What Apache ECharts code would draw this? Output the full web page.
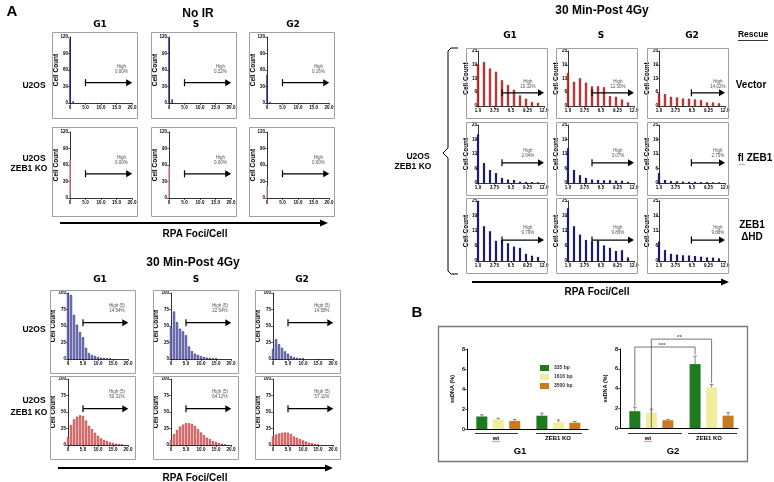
<!DOCTYPE html>
<html><head><meta charset="utf-8">
<script src="https://cdn.jsdelivr.net/npm/echarts@6/dist/echarts.min.js"></script>
<style>html,body{margin:0;padding:0;background:#fff}#c{width:774px;height:482px}</style>
</head><body><div id="c"></div>
<script>
// ================= DATA =================
// Panel A, left, No IR — cell counts per RPA foci/cell bin (bins start at 0)
const noIrU2osG1 = [117, 3];
const noIrU2osS  = [118, 7];
const noIrU2osG2 = [52, 2];
const noIrKoG1   = [70];
const noIrKoS    = [57];
const noIrKoG2   = [22];
const noIrHigh   = [["0.00%", "0.22%", "0.16%"], ["0.00%", "0.00%", "0.00%"]];

// Panel A, left, 30 Min-Post 4Gy (bins start at 0)
const postU2osG1 = [100, 97, 67, 52, 41, 33, 17, 9, 6, 4.5, 3, 2, 1.5, 1, 0.5];
const postU2osS  = [48, 72, 56, 46, 42, 36, 19, 12, 8, 6, 4.5, 3, 2, 1.5, 1, 0.5];
const postU2osG2 = [15, 30, 22.6, 17, 11.6, 8, 4.7, 2.6, 1.6, 1, 0.5];
const postKoG1   = [12, 30, 39, 43, 45, 44, 37, 29, 24, 18.5, 14, 10, 7.7, 6, 4, 3, 2, 1.5, 1];
const postKoS    = [8, 16.5, 22.7, 28, 31, 33, 33, 32, 29, 24, 19, 15, 11, 9, 6, 4.6, 3, 2, 1];
const postKoG2   = [13, 16, 17.5, 18.6, 19, 18.6, 16.5, 13, 11, 9, 7, 5.3, 3.7, 2.7, 1.6, 1];
const postHigh   = [["14.54%", "22.54%", "14.58%"], ["50.31%", "64.12%", "57.11%"]];

// Panel A, right, rescue (bins start at 1)
const vecG1 = [19, 20, 17, 15.6, 11.7, 9.5, 7.4, 4.8, 3.3, 1.8, 1.4];
const vecS  = [15, 11, 12.6, 10.6, 8.9, 9, 8.5, 4.5, 4.2, 3, 1.6];
const vecG2 = [5.7, 5.4, 4.2, 3.9, 3.4, 3.3, 3.0, 2.7, 1.6, 1.6, 1.2];
const flG1  = [21, 8.6, 5.6, 4.3, 2.2, 1.5, 1.3, 0.6, 0.5, 0.4, 0.3];
const flS   = [15, 5.6, 3.4, 2.2, 1.5, 1.3, 1.2, 1.2, 1, 1, 0.5];
const flG2  = [4.3, 1.3, 0.8, 0.7, 0.6, 0.5, 0.5, 0.4, 0.4, 0.3, 0.3];
const hdG1  = [25, 14.5, 12.4, 8.4, 8.8, 7.4, 6, 5.5, 3, 2.2, 1.7];
const hdS   = [22, 14.5, 11, 8.8, 8.1, 8.5, 6.5, 5.5, 4.2, 4.5, 1.5];
const hdG2  = [8.1, 4.6, 3, 2.7, 2.4, 2.3, 2.1, 1.8, 1.5, 1.4, 1.1];
const rescueHigh = [["10.32%", "12.50%", "14.02%"], ["2.04%", "3.07%", "2.75%"], ["9.79%", "9.86%", "9.88%"]];

// Panel B — ssDNA (%), groups [wt, ZEB1 KO]
const bLegend = ["335 bp", "1616 bp", "3500 bp"];
const bGroups = ["wt", "ZEB1 KO"];
const g1Val = [[1.25, 1.33], [0.97, 0.70], [0.80, 0.63]];
const g1Err = [[0.17, 0.25], [0.10, 0.20], [0.15, 0.12]];
const g2Val = [[1.70, 6.47], [1.56, 4.10], [0.78, 1.25]];
const g2Err = [[0.40, 0.80], [0.35, 0.30], [0.07, 0.30]];

// ================= BUILD =================
const FONT = '"Liberation Sans", Arial, sans-serif';
const grids = [], xAxes = [], yAxes = [], series = [], graphic = [];

function T(text, x, y, size, o) {
  o = o || {};
  return {type: 'text', x: x, y: y, z: 100, silent: true,
    style: {text: text, fill: o.c || '#000', font: (o.w || 'bold') + ' ' + size + 'px ' + (o.f || FONT),
      textAlign: o.a || 'center', textVerticalAlign: 'middle', align: o.a || 'center', verticalAlign: 'middle'}};
}
function box(x, y, w, h) {
  graphic.push({type: 'rect', z: 1, silent: true, shape: {x: x + 0.5, y: y + 0.5, width: w, height: h},
    style: {fill: 'none', stroke: '#a0a0a0', lineWidth: 1}});
}
function bigArrow(x1, x2, y) {
  graphic.push({type: 'line', silent: true, shape: {x1: x1, y1: y, x2: x2 - 6, y2: y}, style: {stroke: '#000', lineWidth: 2}});
  graphic.push({type: 'polygon', silent: true, shape: {points: [[x2 - 8, y - 3.5], [x2, y], [x2 - 8, y + 3.5]]}, style: {fill: '#000'}});
}
const axisCommon = {
  axisLine: {lineStyle: {color: '#000', width: 0.8}},
  axisTick: {show: true, length: 2, lineStyle: {color: '#000', width: 0.6}},
  splitLine: {show: false}
};
function addHist(o) {
  const gi = grids.length;
  grids.push({left: o.plot[0], top: o.plot[1], width: o.plot[2], height: o.plot[3], containLabel: false});
  xAxes.push(Object.assign({type: 'value', gridIndex: gi, min: o.xMin, max: o.xMax, interval: o.xInt,
    axisLabel: {fontSize: 4.5, fontWeight: 'bold', color: '#000', margin: 2, showMinLabel: true, showMaxLabel: true,
      hideOverlap: false, formatter: o.xFmt}}, axisCommon));
  yAxes.push(Object.assign({type: 'value', gridIndex: gi, min: 0, max: o.yMax, interval: o.yInt,
    name: 'Cell Count', nameLocation: 'middle', nameGap: o.nameGap, nameRotate: 90, nameMoveOverlap: false,
    nameTextStyle: {fontSize: 6.5, fontWeight: 'bold', color: '#000', fontFamily: FONT},
    axisLabel: {fontSize: 4.5, fontWeight: 'bold', color: '#000', margin: o.yMargin || 2, formatter: o.yFmt}}, axisCommon));
  series.push({type: 'bar', xAxisIndex: gi, yAxisIndex: gi, barWidth: o.barWidth, silent: true,
    data: o.data.map((v, i) => [o.x0 + i, v]), itemStyle: o.style, animation: false});
  series.push({type: 'line', xAxisIndex: gi, yAxisIndex: gi, silent: true, animation: false, z: 5,
    lineStyle: {color: '#000', width: 1.3},
    data: [{value: [o.arrow[0], o.arrow[2]], symbol: 'rect', symbolSize: [1.2, 7], itemStyle: {color: '#000'}},
           {value: [o.arrow[1], o.arrow[2]], symbol: 'triangle', symbolSize: [7, 6], symbolRotate: -90, itemStyle: {color: '#000'}}]});
  series.push({type: 'scatter', xAxisIndex: gi, yAxisIndex: gi, silent: true, animation: false, symbolSize: 0,
    data: [[o.label[0], o.label[1]]],
    label: {show: true, position: 'inside', formatter: o.label[2], fontSize: 4.5, lineHeight: 5, color: '#222', fontFamily: FONT, align: 'center'}});
}

// ---- Left, No IR ----
const colsA = [52, 151, 249], rowsA = [32, 127], rowHA = [86, 89];
const noIrData = [[noIrU2osG1, noIrU2osS, noIrU2osG2], [noIrKoG1, noIrKoS, noIrKoG2]];
const noIrArrowY = [37, 44];
const fmt20 = v => v === 0 ? '0' : v.toFixed(1);
for (let r = 0; r < 2; r++) for (let c = 0; c < 3; c++) {
  const bx = colsA[c], by = rowsA[r];
  box(bx, by, 85, rowHA[r]);
  addHist({plot: [bx + 18, by + 5, 62, 66], data: noIrData[r][c], x0: 0, xMin: 0, xMax: 20, xInt: 5, xFmt: fmt20,
    yMax: 120, yInt: 30, barWidth: 1.4, nameGap: 10,
    style: r === 0 ? {color: '#20207a'} : {color: '#d98a8a'},
    arrow: [5, 19.1, noIrArrowY[r]], label: [16.6, noIrArrowY[r] + 24, 'High\n' + noIrHigh[r][c]]});
}
// ---- Left, 30 min post 4Gy ----
const colsB = [50, 153, 255], rowsB = [290, 376];
const postData = [[postU2osG1, postU2osS, postU2osG2], [postKoG1, postKoS, postKoG2]];
for (let r = 0; r < 2; r++) for (let c = 0; c < 3; c++) {
  const bx = colsB[c], by = rowsB[r];
  box(bx, by, 85, 83);
  addHist({plot: [bx + 18, by + 3, 60, 66], data: postData[r][c], x0: 0, xMin: 0, xMax: 20, xInt: 5, xFmt: fmt20,
    yMax: 100, yInt: 25, barWidth: 2.2, nameGap: 11,
    style: r === 0 ? {color: '#a9a9e0', borderColor: '#1d1d78', borderWidth: 0.7}
                   : {color: '#f4b0b0', borderColor: '#b31d1d', borderWidth: 0.7},
    arrow: [5, 19.1, 55], label: [16.3, 77, 'High (5)\n' + postHigh[r][c]]});
}
// ---- Right, rescue ----
const colsC = [466, 556, 647], rowsC = [48, 122, 198], rowHC = [70, 73, 75];
const resData = [[vecG1, vecS, vecG2], [flG1, flS, flG2], [hdG1, hdS, hdG2]];
const resArrowY = [6, 8.7, 8.7];
const fmt12 = v => Number.isInteger(v) ? v.toFixed(1) : String(+v.toFixed(2));
for (let r = 0; r < 3; r++) for (let c = 0; c < 3; c++) {
  const bx = colsC[c], by = rowsC[r];
  box(bx, by, 81, rowHC[r]);
  addHist({plot: [bx + 12, by + 3, 66, rowHC[r] - 15], data: resData[r][c], x0: 1, xMin: 1, xMax: 12, xInt: 2.75, xFmt: fmt12,
    yMax: 25, yInt: 6.25, yFmt: v => String(Math.round(v)), barWidth: 2.2, nameGap: 8, yMargin: 1,
    style: r === 0 ? {color: '#c43030', borderColor: '#8e0f0f', borderWidth: 0.5} : {color: '#1b1b72'},
    arrow: [c === 2 ? 6.4 : 5, 11.5, resArrowY[r]], label: [c === 2 ? 10.8 : 9.3, resArrowY[r] + 4, 'High\n' + rescueHigh[r][c]]});
}

// ---- Panel B ----
const bColors = ['#1f7a1f', '#eeee9e', '#c77a1e'];
const bPos = [[0.9, 4.55], [1.9, 5.55], [2.9, 6.55]];
function addB(plot, vals, errs, xMax) {
  const gi = grids.length;
  grids.push({left: plot[0], top: plot[1], width: plot[2], height: plot[3]});
  xAxes.push({type: 'value', gridIndex: gi, min: 0, max: xMax, axisLabel: {show: false}, axisTick: {show: false},
    splitLine: {show: false}, axisLine: {lineStyle: {color: '#000', width: 1.2}}});
  yAxes.push(Object.assign({type: 'value', gridIndex: gi, min: 0, max: 8, interval: 2,
    name: 'ssDNA (%)', nameLocation: 'middle', nameGap: 12, nameRotate: 90, nameMoveOverlap: false,
    nameTextStyle: {fontSize: 5.5, fontWeight: 'bold', color: '#000', fontFamily: FONT},
    axisLabel: {fontSize: 5.5, fontWeight: 'bold', color: '#000', margin: 2}}, axisCommon,
    {axisLine: {lineStyle: {color: '#000', width: 1}}}));
  for (let k = 0; k < 3; k++) {
    series.push({type: 'bar', name: bLegend[k], xAxisIndex: gi, yAxisIndex: gi, barWidth: 11, barGap: '-100%', silent: true, animation: false,
      itemStyle: {color: bColors[k]}, data: vals[k].map((v, j) => [bPos[k][j], v])});
    series.push({type: 'custom', xAxisIndex: gi, yAxisIndex: gi, silent: true, animation: false, z: 4,
      data: vals[k].map((v, j) => [bPos[k][j], v, v + errs[k][j]]),
      renderItem: (p, api) => {
        const a = api.coord([api.value(0), api.value(1)]), b = api.coord([api.value(0), api.value(2)]);
        return {type: 'group', children: [
          {type: 'line', shape: {x1: a[0], y1: a[1], x2: b[0], y2: b[1]}, style: {stroke: '#666', lineWidth: 0.8}},
          {type: 'line', shape: {x1: b[0] - 1.8, y1: b[1], x2: b[0] + 1.8, y2: b[1]}, style: {stroke: '#666', lineWidth: 0.8}}]};
      }});
  }
  return gi;
}
addB([467, 349, 121, 80], g1Val, g1Err, 7.35);
const g2i = addB([620, 349, 118, 79], g2Val, g2Err, 7.15);
// significance brackets (G2)
series.push({type: 'line', xAxisIndex: g2i, yAxisIndex: g2i, clip: false, silent: true, animation: false, symbol: 'none',
  lineStyle: {color: '#555', width: 0.8}, data: [[0.9, 2.2], [0.9, 8.2], [4.55, 8.2], [4.55, 7.45]]});
series.push({type: 'line', xAxisIndex: g2i, yAxisIndex: g2i, clip: false, silent: true, animation: false, symbol: 'none',
  lineStyle: {color: '#555', width: 0.8}, data: [[1.9, 0], [1.9, 9.0], [5.55, 9.0], [5.55, 4.55]]});
series.push({type: 'scatter', xAxisIndex: g2i, yAxisIndex: g2i, clip: false, silent: true, animation: false, symbolSize: 0,
  data: [{value: [2.55, 8.35], label: {formatter: '***'}}, {value: [3.6, 9.15], label: {formatter: '**'}}],
  label: {show: true, position: 'inside', fontSize: 6, fontWeight: 'bold', color: '#333'}});

// ---- Texts and decorations ----
graphic.push(T('A', 12, 12, 15));
graphic.push(T('No IR', 198, 14, 12));
[['G1', 100], ['S', 196], ['G2', 293]].forEach(g => graphic.push(T(g[0], g[1], 25, 9, {f: '"DejaVu Sans"'})));
graphic.push(T('U2OS', 34, 86, 8.5));
graphic.push(T('U2OS', 34, 159, 8.5));
graphic.push(T('ZEB1 KO', 29, 169, 8.5));
bigArrow(60, 328, 223);
graphic.push(T('RPA Foci/Cell', 195, 234, 10));
graphic.push(T('30 Min-Post 4Gy', 193, 263, 12));
[['G1', 100], ['S', 196], ['G2', 302]].forEach(g => graphic.push(T(g[0], g[1], 280, 9, {f: '"DejaVu Sans"'})));
graphic.push(T('U2OS', 34, 330, 8.5));
graphic.push(T('U2OS', 34, 401, 8.5));
graphic.push(T('ZEB1 KO', 29, 413, 8.5));
bigArrow(58, 333, 468);
graphic.push(T('RPA Foci/Cell', 195, 478, 10));

graphic.push(T('30 Min-Post 4Gy', 602, 11, 12));
[['G1', 510], ['S', 601], ['G2', 692]].forEach(g => graphic.push(T(g[0], g[1], 36, 9, {f: '"DejaVu Sans"'})));
graphic.push(T('Rescue', 753, 35, 8.5));
graphic.push({type: 'line', silent: true, shape: {x1: 738, y1: 40.5, x2: 768, y2: 40.5}, style: {stroke: '#000', lineWidth: 0.8}});
graphic.push(T('Vector', 751, 85, 10));
graphic.push(T('fl ZEB1', 755, 158, 10));
graphic.push({type: 'polyline', silent: true, shape: {points: [[739, 165], [740.5, 164], [742, 165], [743.5, 164], [745, 165]]}, style: {stroke: '#e03030', lineWidth: 0.6, fill: 'none'}});
graphic.push(T('ZEB1', 752, 225, 10));
graphic.push(T('\u0394HD', 752, 237, 10));
graphic.push(T('U2OS', 418, 157, 8.5));
graphic.push(T('ZEB1 KO', 413, 167, 8.5));
graphic.push({type: 'polyline', silent: true, shape: {points: [[458, 48], [451, 48], [448, 51], [448, 148], [443, 153], [448, 158], [448, 271], [451, 274], [458, 274]]},
  style: {stroke: '#000', lineWidth: 1, fill: 'none'}});
bigArrow(472, 729, 282);
graphic.push(T('RPA Foci/Cell', 597, 292, 10));

graphic.push(T('B', 417, 313, 15));
graphic.push({type: 'rect', silent: true, z: 1, shape: {x: 438.5, y: 326.5, width: 309, height: 135}, style: {fill: 'none', stroke: '#777', lineWidth: 1.3}});
// group underlines and labels in panel B
[[475, 518, 496, 'wt'], [536, 582, 558, 'ZEB1 KO'], [628, 682, 648, 'wt'], [688, 737, 709, 'ZEB1 KO']].forEach(g => {
  graphic.push({type: 'line', silent: true, shape: {x1: g[0], y1: 433.5, x2: g[1], y2: 433.5}, style: {stroke: '#000', lineWidth: 0.8}});
  graphic.push(T(g[3], g[2], 438, 6));
  if (g[3] === 'wt') graphic.push({type: 'polyline', silent: true, shape: {points: [[g[2] - 4, 442], [g[2] - 2, 441], [g[2], 442], [g[2] + 2, 441], [g[2] + 4, 442]]}, style: {stroke: '#e03030', lineWidth: 0.6, fill: 'none'}});
});
graphic.push(T('G1', 520, 451, 9.5));
graphic.push(T('G2', 673, 451, 9.5));

const chart = echarts.init(document.getElementById('c'), null, {renderer: 'canvas'});
chart.setOption({
  animation: false,
  backgroundColor: '#fff',
  textStyle: {fontFamily: FONT},
  grid: grids, xAxis: xAxes, yAxis: yAxes, series: series, graphic: graphic,
  legend: {data: bLegend, left: 535, top: 360, orient: 'vertical', itemWidth: 9, itemHeight: 6, itemGap: 3,
    textStyle: {fontSize: 5, fontWeight: 'bold', color: '#333'}, selectedMode: false, icon: 'rect'}
});
</script></body></html>
